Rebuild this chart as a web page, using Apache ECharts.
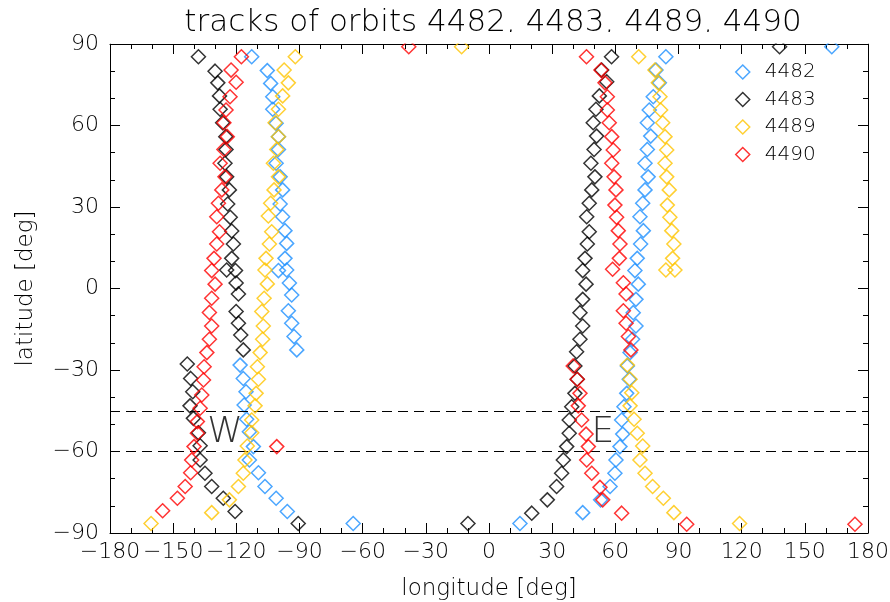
<!DOCTYPE html>
<html>
<head>
<meta charset="utf-8">
<title>tracks of orbits</title>
<script src="https://cdn.jsdelivr.net/npm/echarts/dist/echarts.min.js"></script>
<style>
  html, body { margin: 0; padding: 0; background: #ffffff; }
  #chart { width: 890px; height: 602px; }
</style>
</head>
<body>
<div id="chart"></div>
<script>
// Orbit ground tracks, longitude / latitude in degrees.
const orbitNames = ['4482', '4483', '4489', '4490'];

const lon4482 = [
  -112.7, -105.3, -103.7, -102.7, -102.7, -101.1, -100.0, -100.0, -101.1, -99.2, -98.0, -99.2,
  -98.0, -96.9, -96.1, -96.9, -100.0, -96.1, -94.8, -93.7, -95.3, -93.7, -92.6, -91.3,
  -118.2, -116.7, -115.4, -116.3, -115.1, -113.8, -111.9, -113.8, -109.5, -106.4, -101.1, -95.8, -64.5,
  84.0, 79.3, 80.9, 78.0, 76.1, 75.2, 76.8, 75.2, 74.1, 75.6, 74.1, 73.0, 71.7, 73.3, 72.0, 70.4,
  69.3, 70.9, 69.8, 68.5, 69.8, 68.2, 67.0, 65.7, 66.6, 65.4, 64.1, 63.0, 63.5, 62.2, 60.3, 59.8,
  57.5, 53.0, 44.5, 14.7,
  162.8
];
const lat4482 = [
  85.3, 80.2, 75.5, 70.6, 66.0, 60.8, 55.9, 51.2, 46.1, 41.1, 36.3, 31.1,
  26.4, 21.3, 16.6, 11.1, 6.6, 6.8, 2.0, -2.4, -8.2, -12.8, -17.7, -22.6,
  -28.2, -33.1, -38.0, -42.9, -48.1, -52.7, -58.2, -63.1, -67.8, -72.9, -77.2, -82.1, -86.5,
  85.3, 80.4, 75.7, 70.6, 65.7, 61.0, 56.1, 51.2, 46.1, 41.1, 36.3, 31.4, 26.4, 21.3, 16.4, 11.1,
  6.6, 1.6, -4.0, -8.9, -13.8, -18.7, -23.6, -28.5, -33.4, -38.6, -43.5, -48.4, -53.6, -58.2, -63.1, -68.0,
  -72.9, -77.8, -82.5, -86.5,
  89.0
];

const lon4483 = [
  -138.0, -130.1, -128.8, -128.0, -127.7, -126.5, -125.0, -124.9, -125.4, -124.6, -123.3, -124.1,
  -122.9, -122.2, -121.4, -122.2, -124.6, -120.4, -120.1, -119.0, -120.1, -119.0, -117.9, -116.7,
  -143.3, -141.7, -140.7, -142.0, -140.4, -138.0, -137.2, -137.2, -134.9, -131.7, -126.2, -120.6, -90.6,
  58.2, 53.5, 55.9, 52.4, 50.8, 49.5, 51.1, 49.9, 48.4, 50.3, 48.8, 47.6, 46.4, 47.6, 46.7, 45.6,
  44.5, 46.1, 44.5, 43.2, 44.5, 43.2, 41.6, 40.8, 41.9, 40.8, 39.3, 38.1, 38.1, 36.9, 35.3, 34.5,
  32.1, 27.7, 20.3, -10.0,
  138.0
];
const lat4483 = [
  85.3, 80.0, 75.7, 70.9, 66.0, 61.0, 55.9, 51.2, 46.1, 41.1, 36.3, 31.1,
  26.2, 21.2, 16.4, 11.1, 6.8, 6.6, 2.0, -2.0, -8.5, -12.8, -17.1, -22.6,
  -27.8, -33.1, -38.0, -43.2, -47.8, -53.1, -57.9, -63.1, -68.0, -72.9, -77.2, -82.1, -86.5,
  85.3, 80.4, 76.1, 70.9, 66.0, 61.0, 56.1, 51.2, 46.1, 41.1, 36.3, 31.4, 26.4, 20.9, 16.4, 11.1,
  6.6, 1.6, -4.0, -8.9, -13.8, -18.7, -23.3, -28.5, -33.4, -38.6, -43.5, -48.4, -53.3, -58.2, -63.1, -68.0,
  -72.9, -77.8, -82.7, -86.5,
  89.0
];

const lon4489 = [
  -92.0, -97.3, -95.3, -98.0, -100.0, -101.6, -100.0, -100.8, -102.4, -100.0, -102.1, -103.7,
  -104.8, -103.2, -104.3, -105.9, -106.4, -105.3, -106.8, -107.9, -107.2, -107.5, -108.7, -110.0,
  -109.5, -110.6, -111.1, -112.7, -112.7, -114.8, -115.9, -116.7, -119.0, -123.3, -131.7, -160.5,
  71.1, 78.8, 80.4, 81.2, 81.5, 82.5, 83.6, 84.4, 83.6, 84.4, 85.6, 84.7, 85.9, 86.8, 87.8, 87.2, 84.0, 88.3,
  65.7, 67.0, 67.8, 67.0, 68.9, 70.4, 73.0, 71.7, 74.1, 77.7, 82.8, 87.8, 119.0,
  -13.0
];
const lat4489 = [
  85.3, 80.4, 75.7, 70.9, 66.0, 61.0, 55.9, 51.2, 46.1, 41.1, 36.3, 31.4,
  26.7, 20.9, 16.4, 11.1, 6.8, 1.7, -3.6, -8.5, -13.8, -18.7, -23.6, -28.8,
  -33.4, -38.6, -43.2, -48.4, -53.1, -58.0, -63.1, -68.0, -72.9, -77.8, -82.5, -86.5,
  85.3, 80.4, 75.7, 70.6, 65.7, 61.0, 55.9, 51.0, 46.1, 41.1, 36.3, 30.7, 26.2, 21.3, 16.4, 11.1, 6.8, 6.8,
  -28.2, -33.4, -38.4, -43.2, -48.1, -53.3, -58.0, -63.1, -68.0, -72.9, -77.2, -82.5, -86.5,
  89.0
];

const lon4490 = [
  -117.6, -122.5, -120.1, -123.0, -124.9, -125.9, -124.3, -125.9, -127.7, -125.4, -126.9, -128.5,
  -129.3, -128.0, -129.3, -130.6, -131.7, -130.1, -131.7, -132.8, -131.7, -132.8, -134.0, -135.3,
  -135.6, -136.4, -137.2, -138.5, -138.5, -140.1, -141.2, -141.7, -144.3, -148.0, -155.0,
  -100.8,
  46.3, 53.2, 55.1, 56.2, 56.2, 57.1, 58.3, 59.0, 58.3, 59.4, 60.3, 59.8, 60.6, 61.4, 62.2, 61.9,
  58.7, 63.8, 65.1, 63.8, 65.1, 66.2, 67.4,
  40.0, 41.9, 43.2, 42.4, 44.0, 46.1, 47.2, 46.4, 48.8, 52.7, 54.0, 63.0, 93.9, 173.8,
  -38.1
];
const lat4490 = [
  85.3, 80.4, 75.9, 70.6, 65.7, 61.0, 55.9, 51.2, 46.1, 41.1, 36.3, 31.4,
  26.4, 20.9, 16.4, 11.1, 6.6, 1.6, -3.6, -8.8, -13.8, -18.7, -23.6, -28.8,
  -33.7, -39.2, -44.1, -49.0, -53.3, -58.2, -63.1, -67.8, -72.9, -77.2, -81.8,
  -58.2,
  85.3, 80.4, 75.7, 70.6, 65.7, 61.0, 55.9, 51.0, 46.1, 41.1, 36.3, 30.7, 26.2, 21.3, 16.4, 11.1,
  7.1, 2.1, -2.0, -8.2, -12.8, -17.7, -22.6,
  -28.5, -33.4, -38.6, -43.2, -48.4, -53.6, -58.2, -63.1, -68.0, -73.2, -77.8, -82.7, -86.8, -86.8,
  89.0
];

// Latitude band boundaries (dashed) and the West / East labels.
const bandLats = [-45, -60];
const sideLabels = ['W', 'E'];
const sideLons = [-125.4, 54.1];
const sideLats = [-53.2, -53.2];

// Axis ticks
const lonTicks = { min: -180, max: 180, step: 30 };
const latTicks = { min: -90, max: 90, step: 30 };

const colors = ['#1e90ff', '#000000', '#ffc400', '#ff0000'];
const FONT = 'DejaVu Sans';
const TEXT = '#000000';
const GRID = { left: 110, right: 22, top: 44, bottom: 69 };

const zip = (xs, ys) => xs.map((x, i) => [x, ys[i]]);
const tracks = [zip(lon4482, lat4482), zip(lon4483, lat4483), zip(lon4489, lat4489), zip(lon4490, lat4490)];
const minusFmt = v => String(v).replace('-', '\u2212');

const tickCommon = {
  axisLine: { show: true, onZero: false, lineStyle: { color: '#000', width: 1 } },
  axisTick: { show: true, inside: true, length: 10, lineStyle: { color: '#000', width: 1 } },
  minorTick: { show: true, splitNumber: 3, length: 5, lineStyle: { color: '#000', width: 1 } },
  splitLine: { show: false },
  minorSplitLine: { show: false }
};

const xBase = Object.assign({ type: 'value', min: lonTicks.min, max: lonTicks.max, interval: lonTicks.step }, tickCommon);
const yBase = Object.assign({ type: 'value', min: latTicks.min, max: latTicks.max, interval: latTicks.step }, tickCommon);

const scatterSeries = orbitNames.map((name, i) => ({
  type: 'scatter',
  name: name,
  data: tracks[i],
  symbol: 'diamond',
  symbolSize: 14,
  xAxisIndex: 0,
  yAxisIndex: 0,
  itemStyle: { color: 'rgba(0,0,0,0)', borderColor: colors[i], borderWidth: 1.5 },
  emphasis: { disabled: true },
  z: 3 + i
}));

// Dashed band boundaries
scatterSeries[0].markLine = {
  silent: true,
  symbol: 'none',
  label: { show: false },
  lineStyle: { color: '#000', width: 1, type: [10, 6] },
  data: bandLats.map(v => ({ yAxis: v }))
};

const labelSeries = {
  type: 'scatter',
  name: 'sides',
  symbolSize: 0,
  data: sideLabels.map((t, i) => [sideLons[i], sideLats[i], t]),
  label: {
    show: true, position: 'inside', formatter: p => p.value[2],
    fontFamily: FONT, fontSize: 36, fontWeight: 200, color: TEXT
  },
  silent: true,
  z: 10
};

const chart = echarts.init(document.getElementById('chart'), null, { renderer: 'canvas' });
chart.setOption({
  animation: false,
  backgroundColor: '#ffffff',
  textStyle: { fontFamily: FONT },
  title: {
    text: 'tracks of orbits ' + orbitNames.join(', '),
    left: 488, top: 2, textAlign: 'center',
    textStyle: { fontFamily: FONT, fontSize: 31, fontWeight: 200, color: TEXT }
  },
  grid: Object.assign({ outerBoundsMode: 'none', containLabel: false }, GRID),
  legend: {
    orient: 'vertical', left: 730, top: 57,
    itemWidth: 14, itemHeight: 14, itemGap: 7.5,
    icon: 'diamond',
    itemStyle: { color: 'rgba(0,0,0,0)', borderWidth: 1.5 },
    textStyle: { fontFamily: FONT, fontSize: 20, fontWeight: 200, color: TEXT, padding: [0, 0, 0, 10] },
    data: orbitNames,
    selectedMode: false
  },
  xAxis: [
    Object.assign({}, xBase, {
      position: 'bottom',
      name: 'longitude [deg]', nameLocation: 'middle', nameGap: 45,
      nameTextStyle: { fontFamily: FONT, fontSize: 23, fontWeight: 200, color: TEXT },
      axisLabel: { show: true, margin: 8, formatter: minusFmt, fontFamily: FONT, fontSize: 22, fontWeight: 200, color: TEXT, hideOverlap: false }
    }),
    Object.assign({}, xBase, { position: 'top', axisLabel: { show: false } })
  ],
  yAxis: [
    Object.assign({}, yBase, {
      position: 'left',
      name: 'latitude [deg]', nameLocation: 'middle', nameGap: 72,
      nameTextStyle: { fontFamily: FONT, fontSize: 23, fontWeight: 200, color: TEXT },
      axisLabel: { show: true, margin: 11, formatter: minusFmt, fontFamily: FONT, fontSize: 22, fontWeight: 200, color: TEXT, hideOverlap: false }
    }),
    Object.assign({}, yBase, { position: 'right', axisLabel: { show: false } })
  ],
  // Symbols reaching past the top of the plot window are trimmed at the frame.
  graphic: [{
    type: 'rect', silent: true, z: 50,
    shape: { x: GRID.left - 10, y: GRID.top - 12, width: 890 - GRID.left - GRID.right + 20, height: 11.4 },
    style: { fill: '#ffffff' }
  }],
  series: scatterSeries.concat([labelSeries])
});
</script>
</body>
</html>
